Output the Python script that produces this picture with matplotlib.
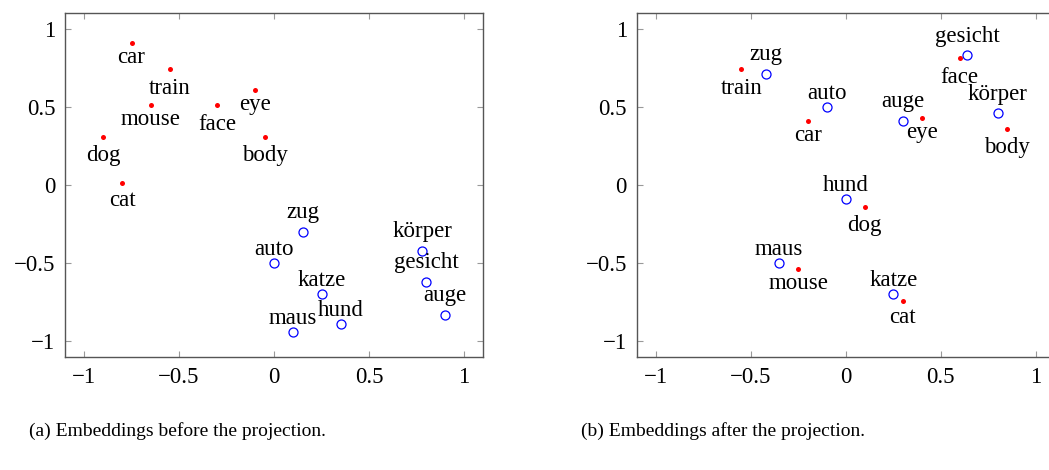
import matplotlib.pyplot as plt

plt.rcParams['font.family'] = ['Liberation Serif', 'DejaVu Serif']
plt.rcParams['font.size'] = 16.5

# (a) before the projection
en_words_a = ['car', 'train', 'mouse', 'face', 'eye', 'body', 'dog', 'cat']
en_x_a = [-0.75, -0.55, -0.65, -0.30, -0.10, -0.05, -0.90, -0.80]
en_y_a = [0.91, 0.74, 0.51, 0.51, 0.61, 0.31, 0.31, 0.01]
de_words_a = ['zug', 'auto', 'katze', 'hund', 'maus', 'körper', 'gesicht', 'auge']
de_x_a = [0.15, 0.00, 0.25, 0.35, 0.10, 0.78, 0.80, 0.90]
de_y_a = [-0.30, -0.50, -0.70, -0.89, -0.94, -0.42, -0.62, -0.83]

# (b) after the projection
en_words_b = ['train', 'car', 'eye', 'face', 'body', 'dog', 'mouse', 'cat']
en_x_b = [-0.55, -0.20, 0.40, 0.60, 0.85, 0.10, -0.25, 0.30]
en_y_b = [0.74, 0.41, 0.43, 0.81, 0.36, -0.14, -0.54, -0.74]
de_words_b = ['zug', 'auto', 'auge', 'gesicht', 'körper', 'hund', 'maus', 'katze']
de_x_b = [-0.42, -0.10, 0.30, 0.64, 0.80, 0.00, -0.35, 0.25]
de_y_b = [0.71, 0.50, 0.41, 0.83, 0.46, -0.09, -0.50, -0.70]

captions = ['(a) Embeddings before the projection.',
            '(b) Embeddings after the projection.']
ticks = [-1, -0.5, 0, 0.5, 1]
tick_labels = ['\u22121', '\u22120.5', '0', '0.5', '1']

PX = 0.72  # points per pixel at dpi 100


def below_offset(word):
    # tikz "below": box top (incl. ascenders) sits under the point
    if any(c in 'bdfhkli' for c in word):
        h = 14
    elif 't' in word:
        h = 12
    else:
        h = 9.5
    return -(10.5 + h) * PX


def above_offset(word):
    # tikz "above": box bottom (incl. descenders) sits over the point
    if any(c in 'gjpqy' for c in word):
        return 13.5 * PX
    return 8 * PX


def draw_panel(ax, ex, ey, ewords, dx, dy, dwords):
    ax.plot(ex, ey, 'o', color='#ff0000', markersize=3.6, markeredgewidth=0,
            linestyle='none')
    ax.plot(dx, dy, 'o', markerfacecolor='none', markeredgecolor='#0000ff',
            markersize=6.5, markeredgewidth=0.9, linestyle='none')
    for x, y, w in zip(ex, ey, ewords):
        ax.annotate(w, (x, y), xytext=(0, below_offset(w)),
                    textcoords='offset points', ha='center', va='baseline')
    for x, y, w in zip(dx, dy, dwords):
        ax.annotate(w, (x, y), xytext=(0, above_offset(w)),
                    textcoords='offset points', ha='center', va='baseline')
    ax.set_xlim(-1.1, 1.1)
    ax.set_ylim(-1.1, 1.1)
    ax.set_xticks(ticks)
    ax.set_xticklabels(tick_labels)
    ax.set_yticks(ticks)
    ax.set_yticklabels(tick_labels)
    ax.tick_params(direction='in', length=4, width=0.8, color='#999999',
                   top=True, right=True, pad=7)
    for s in ax.spines.values():
        s.set_color('#555555')
        s.set_linewidth(1.0)


fig = plt.figure(figsize=(10.49, 4.70), dpi=100)
ax1 = fig.add_axes([65 / 1049, 1 - 357 / 470, 418 / 1049, 344 / 470])
ax2 = fig.add_axes([636.7 / 1049, 1 - 357 / 470, 418 / 1049, 344 / 470])

draw_panel(ax1, en_x_a, en_y_a, en_words_a, de_x_a, de_y_a, de_words_a)
draw_panel(ax2, en_x_b, en_y_b, en_words_b, de_x_b, de_y_b, de_words_b)

fig.text(177 / 1049, 1 - 431 / 470, captions[0], ha='center', va='center',
         fontsize=14)
fig.text(723 / 1049, 1 - 431 / 470, captions[1], ha='center', va='center',
         fontsize=14)

fig.savefig('out.png', dpi=100)
